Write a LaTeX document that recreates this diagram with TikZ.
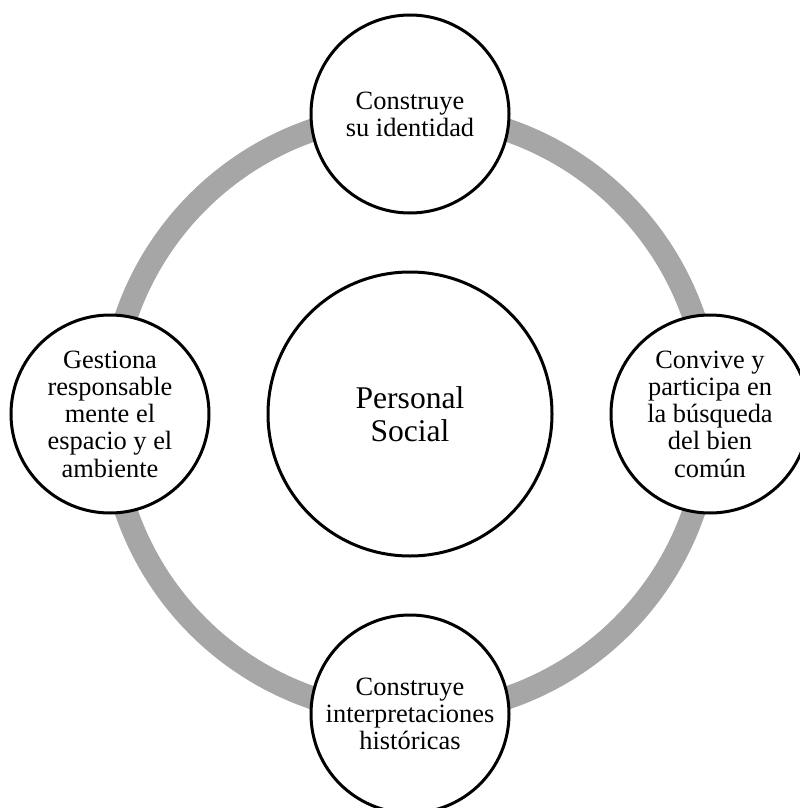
\documentclass[tikz,border=0pt]{standalone}
\usepackage{fontspec}
\setmainfont{Liberation Serif}[Ligatures=TeX]
\newfontfamily\tnr{Liberation Serif}
\usetikzlibrary{positioning}
\definecolor{ringgray}{RGB}{166,166,166}

\begin{document}
\begin{tikzpicture}[node distance={150pt}, line width=1.5pt,
    comp/.style = {draw, circle, fill=white, minimum size=99pt, inner sep=0pt, align=center, font=\tnr\fontsize{13.2}{13.6}\selectfont},
    area/.style = {draw, circle, fill=white, minimum size=142pt, inner sep=0pt, align=center, font=\tnr\fontsize{15.8}{16.5}\selectfont}]
            \useasboundingbox (0,0) rectangle (399.5pt,-404pt);
            \node[area] (ps) at (205pt,-207pt) {Personal\\Social};
            \draw[ringgray, line width=11.5pt] (ps.center) circle [radius=150pt];
            \node[comp] (id) [above of=ps] {Construye\\su identidad};
            \node[comp] (amb) [left of=ps] {Gestiona\\responsable\\mente el\\espacio y el\\ambiente};
            \node[comp] (bien) [right of=ps] {Convive y\\participa en\\la búsqueda\\del bien\\común};
            \node[comp] (hist) [below of=ps] {Construye\\interpretaciones\\históricas};
        \end{tikzpicture}
\end{document}
